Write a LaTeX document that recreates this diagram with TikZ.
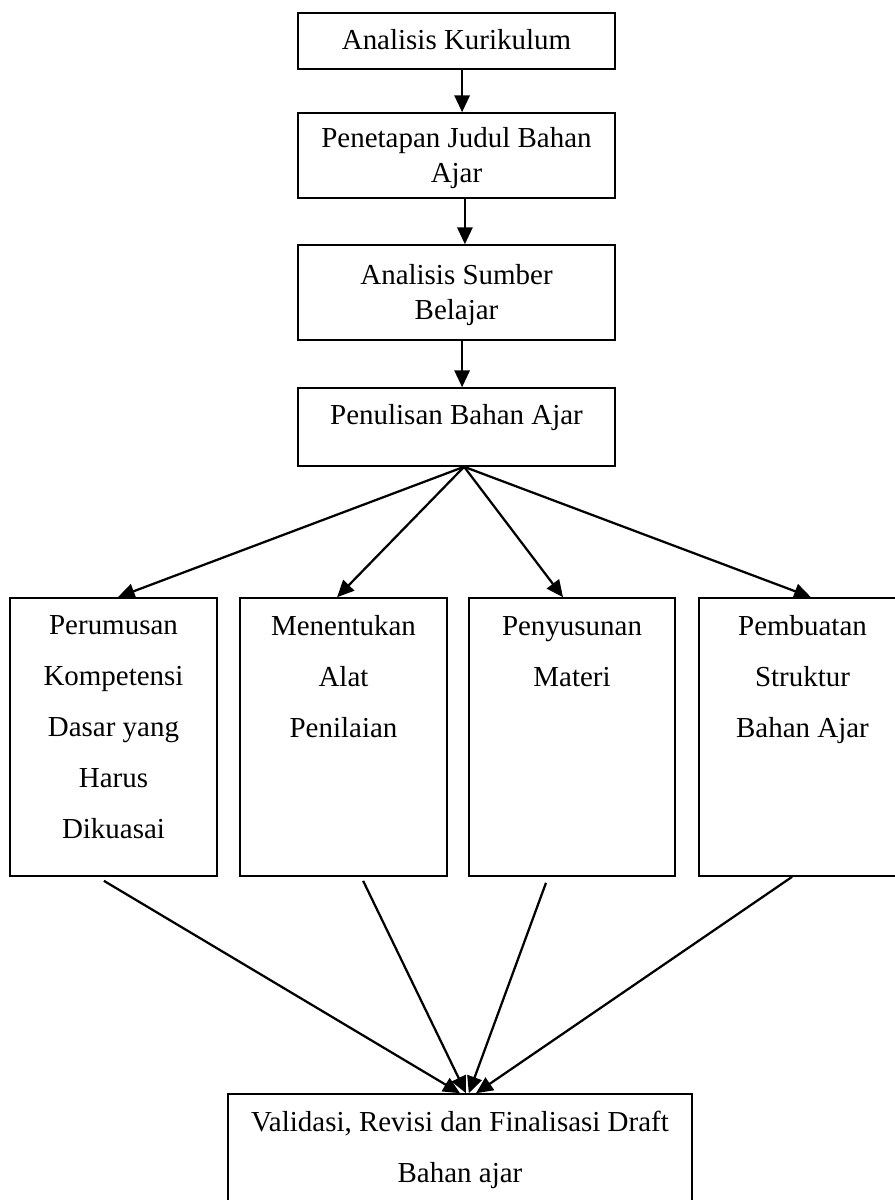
\documentclass[tikz,border=0pt]{standalone}
\usepackage{fontspec}
\setmainfont{Liberation Serif}
\usetikzlibrary{arrows.meta}

\begin{document}
\begin{tikzpicture}[x=0.025cm,y=-0.025cm,
            kotak/.style={draw=black,line width=1.1pt,inner sep=0pt},
            teks/.style={anchor=base,align=center,inner sep=0pt,font=\fontsize{20.6}{24.9}\selectfont},
            teksjarang/.style={teks,font=\fontsize{20.6}{36.1}\selectfont},
            panah/.style={line width=1.6pt,-{Triangle[length=0.42cm,width=0.38cm]}}]
            \useasboundingbox (0,0) rectangle (894,1200);

            \node[kotak,minimum width=7.925cm,minimum height=1.4cm] (k1) at (456.5,41) {};
            \node[kotak,minimum width=7.925cm,minimum height=2.125cm] (k2) at (456.5,155.5) {};
            \node[kotak,minimum width=7.925cm,minimum height=2.375cm] (k3) at (456.5,292.5) {};
            \node[kotak,minimum width=7.925cm,minimum height=1.95cm] (k4) at (456.5,427) {};
            \node[teks] (t1) at (456.5,50) {Analisis Kurikulum};
            \node[teks] (t2) at (456.5,183) {Penetapan Judul Bahan\\Ajar};
            \node[teks] (t3) at (456.5,320) {Analisis Sumber\\Belajar};
            \node[teks] (t4) at (456.5,424) {Penulisan Bahan Ajar};

            \node[kotak,minimum width=5.175cm,minimum height=6.95cm] (b1) at (113.5,737) {};
            \node[kotak,minimum width=5.175cm,minimum height=6.95cm] (b2) at (343.5,737) {};
            \node[kotak,minimum width=5.15cm,minimum height=6.95cm] (b3) at (572,737) {};
            \node[kotak,minimum width=5.175cm,minimum height=6.95cm] (b4) at (802.5,737) {};
            \node[teksjarang] (tb1) at (113.5,838) {Perumusan\\Kompetensi\\Dasar yang\\Harus\\Dikuasai};
            \node[teksjarang] (tb2) at (343.5,737) {Menentukan\\Alat\\Penilaian};
            \node[teksjarang] (tb3) at (572,686) {Penyusunan\\Materi};
            \node[teksjarang] (tb4) at (802.5,737) {Pembuatan\\Struktur\\Bahan Ajar};

            \node[kotak,minimum width=11.6cm,minimum height=3.15cm] (v) at (460,1157) {};
            \node[teksjarang] (tv) at (460,1182) {Validasi, Revisi dan Finalisasi Draft\\Bahan ajar};

            \draw[panah] ([xshift=0.14cm]k1.south) -- ([xshift=0.14cm]k2.north);
            \draw[panah] ([xshift=0.21cm]k2.south) -- ([xshift=0.21cm]k3.north);
            \draw[panah] ([xshift=0.14cm]k3.south) -- ([xshift=0.14cm]k4.north);

            \draw[panah] ([xshift=0.19cm]k4.south) -- ([xshift=0.11cm]b1.north);
            \draw[panah] ([xshift=0.19cm]k4.south) -- ([xshift=-0.16cm]b2.north);
            \draw[panah] ([xshift=0.19cm]k4.south) -- ([xshift=-0.225cm]b3.north);
            \draw[panah] ([xshift=0.19cm]k4.south) -- ([xshift=0.21cm]b4.north);

            \draw[panah] ([xshift=-0.24cm,yshift=-0.1cm]b1.south) -- ([xshift=0cm]v.north);
            \draw[panah] ([xshift=0.49cm,yshift=-0.1cm]b2.south) -- ([xshift=0.15cm]v.north);
            \draw[panah] ([xshift=-0.65cm,yshift=-0.15cm]b3.south) -- ([xshift=0.22cm]v.north);
            \draw[panah] ([xshift=-0.26cm]b4.south) -- ([xshift=0.4cm]v.north);
        \end{tikzpicture}
\end{document}
